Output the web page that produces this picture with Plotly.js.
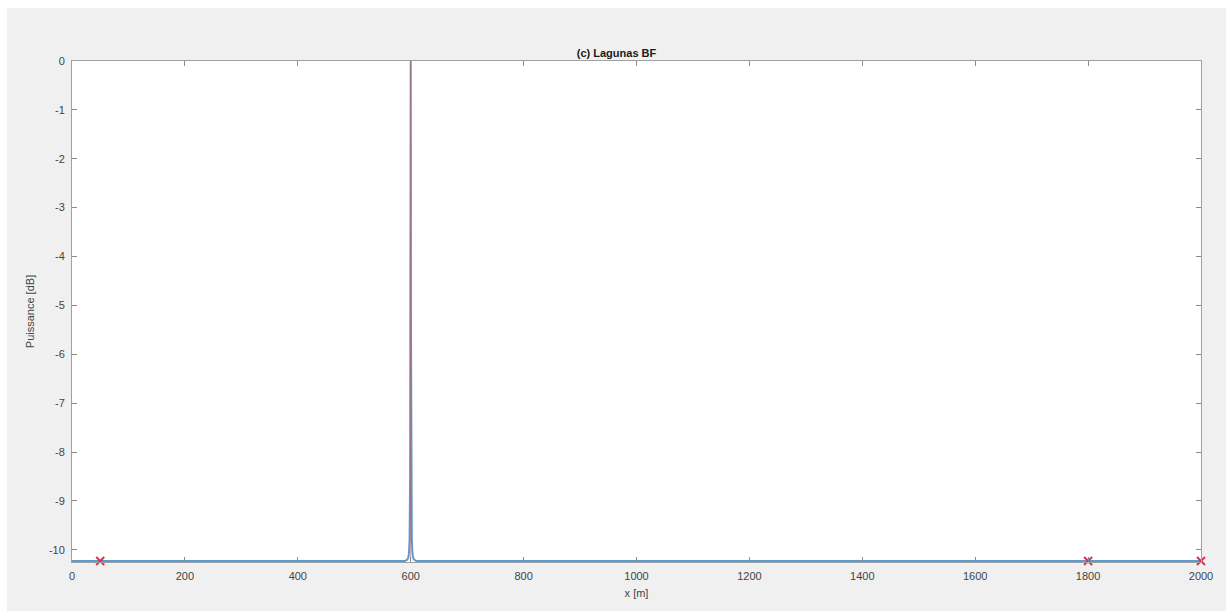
<!DOCTYPE html>
<html>
<head>
<meta charset="utf-8">
<script src="https://cdn.plot.ly/plotly-3.0.1.min.js"></script>
<style>html,body{margin:0;padding:0;background:#ffffff;overflow:hidden;}#chart{position:absolute;left:7px;top:8px;width:1219px;height:603px;}</style>
</head>
<body>
<div id="chart"></div>
<script>
// Spectrum (blue): x positions [m] and power [dB]
const specX = [0, 590, 594, 596, 597, 598, 599, 599.5, 600, 600.5, 601, 602, 603, 604, 606, 610, 2000];
const specY = [-10.23, -10.23, -10.2, -10.15, -10.05, -9.8, -8.5, -5.5, 0, -5.5, -8.5, -9.8, -10.05, -10.15, -10.2, -10.23, -10.23];
// Red reference line at the detected target
const refX = [600, 600];
const refY = [-10.23, 0];
// Red markers (x) on the floor
const markX = [50, 1800, 2000];
const markY = [-10.23, -10.23, -10.23];
// Ticks
const xTicks = [0, 200, 400, 600, 800, 1000, 1200, 1400, 1600, 1800, 2000];
const yTicks = [0, -1, -2, -3, -4, -5, -6, -7, -8, -9, -10];

const traces = [
  {x: specX, y: specY, type: 'scatter', mode: 'lines', line: {color: '#5a9bd0', width: 2}, hoverinfo: 'x+y'},
  {x: refX, y: refY, type: 'scatter', mode: 'lines', line: {color: '#d9534f', width: 1}, opacity: 0.6},
  {x: markX, y: markY, type: 'scatter', mode: 'markers', cliponaxis: false, marker: {symbol: 'x-thin-open', size: 8, color: '#e0304a', line: {width: 2, color: '#e0304a'}}}
];

const fontFam = 'Liberation Sans, Arial, sans-serif';
const axisCommon = {
  showgrid: false, zeroline: false, showline: true, mirror: 'ticks',
  linecolor: '#a0a0a0', linewidth: 1, ticks: 'inside', ticklen: 5, tickcolor: '#8a8a8a',
  ticklabelstandoff: 4,
  tickfont: {family: fontFam, size: 11, color: '#444444'}
};

const layout = {
  width: 1219, height: 603,
  paper_bgcolor: '#f0f0f0', plot_bgcolor: '#ffffff',
  margin: {l: 65, r: 25, t: 53, b: 49},
  showlegend: false,
  title: {text: '<b>(c) Lagunas BF</b>', x: 0.5, xanchor: 'center', y: 1, yref: 'paper', yanchor: 'bottom', pad: {b: 4},
          font: {family: fontFam, size: 11, color: '#1a1a1a'}},
  xaxis: Object.assign({}, axisCommon, {
    range: [0, 2000], tickvals: xTicks, ticktext: xTicks.map(String),
    title: {text: 'x [m]', standoff: 8, font: {family: fontFam, size: 11, color: '#444444'}}
  }),
  yaxis: Object.assign({}, axisCommon, {
    range: [-10.25, 0], tickvals: yTicks, ticktext: yTicks.map(String),
    title: {text: 'Puissance [dB]', standoff: 12, font: {family: fontFam, size: 11, color: '#444444'}}
  })
};

Plotly.newPlot('chart', traces, layout, {displayModeBar: false, staticPlot: true});
</script>
</body>
</html>
